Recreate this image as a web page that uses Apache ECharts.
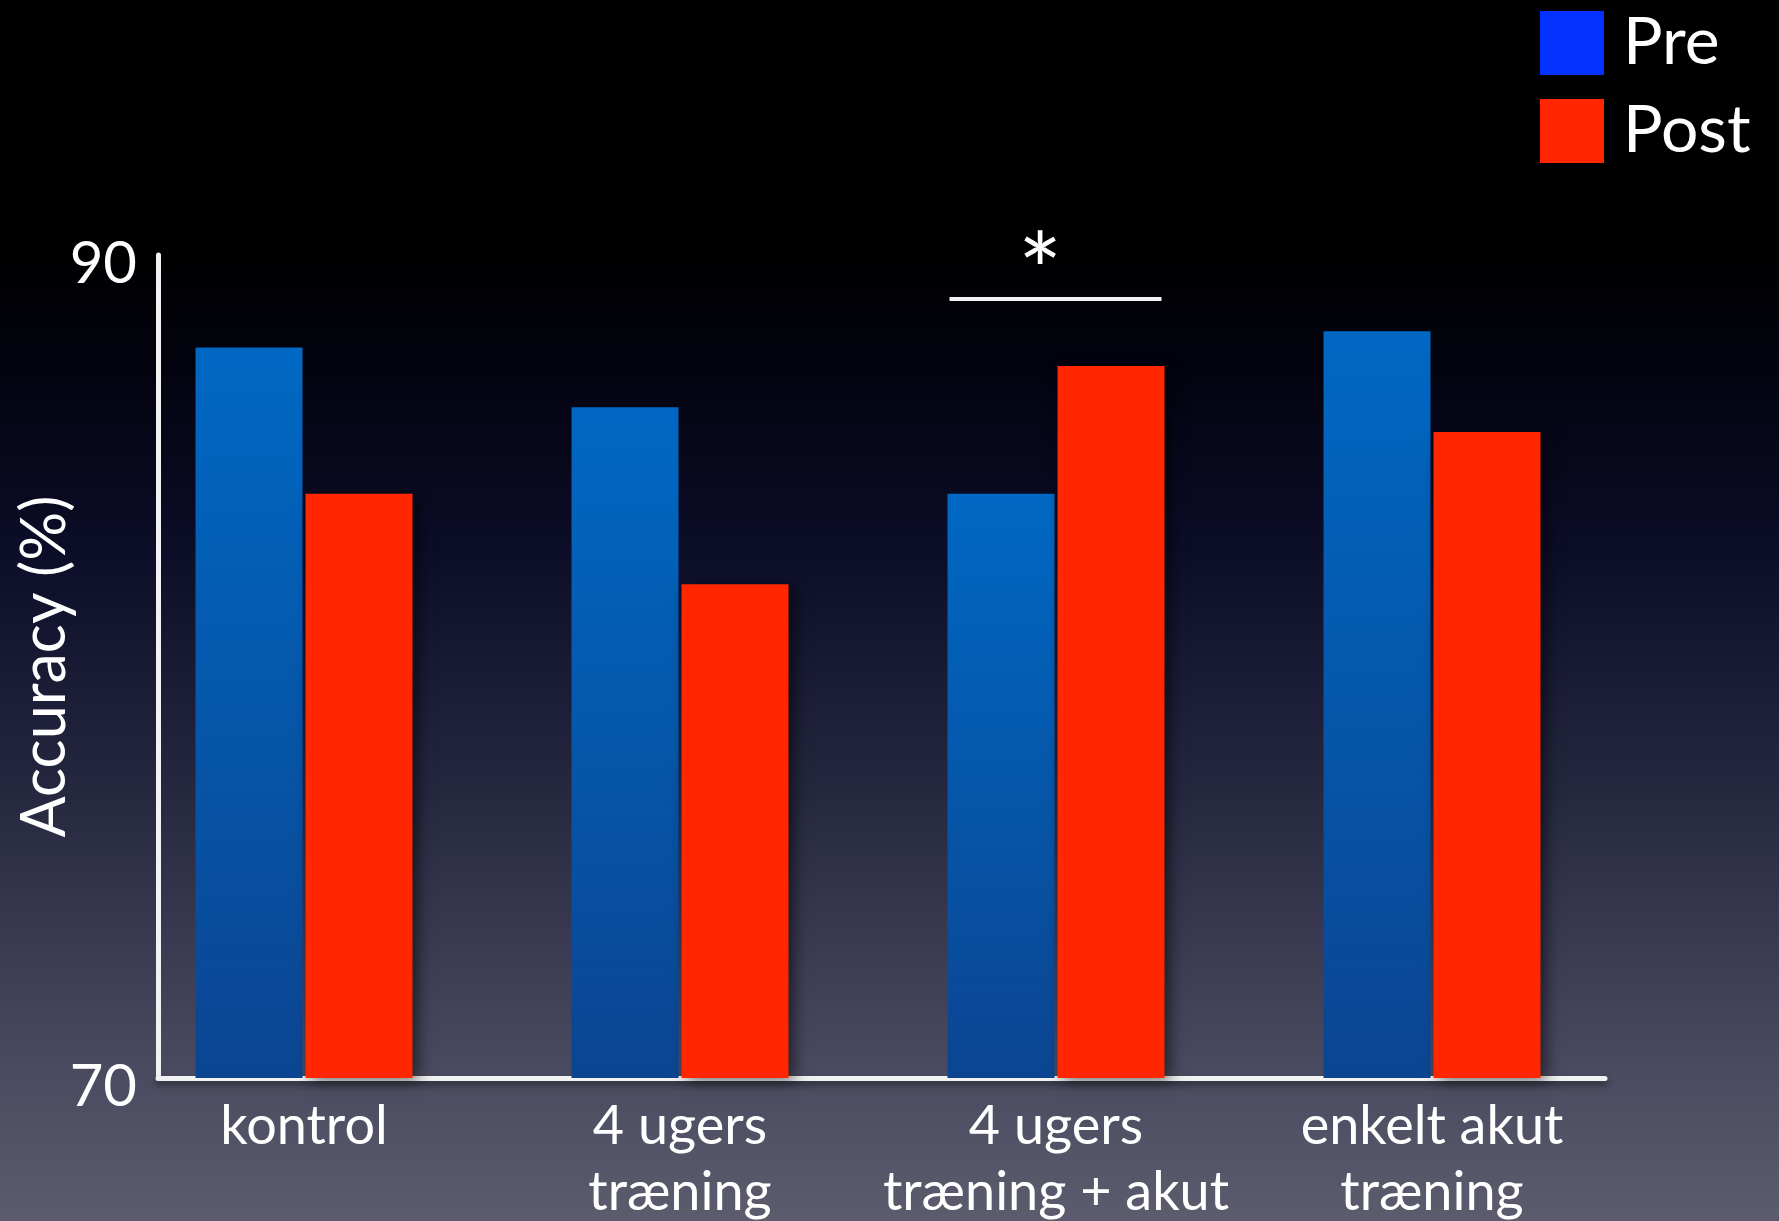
<!DOCTYPE html>
<html>
<head>
<meta charset="utf-8">
<title>Accuracy pre/post</title>
<script src="https://cdn.jsdelivr.net/npm/echarts@6/dist/echarts.min.js"></script>
<style>
  html, body { margin: 0; padding: 0; }
  body {
    width: 1779px; height: 1221px; overflow: hidden;
    background: linear-gradient(to bottom,
      #000000 0%, #000000 20%, #03030f 30%, #0c0d28 45%,
      #262840 65%, #46475d 85%, #5c5c6e 100%);
  }
  #chart { width: 1779px; height: 1221px; }
</style>
</head>
<body>
<div id="chart"></div>
<script>
// Groups on the x axis
const categories = ['kontrol', '4 ugers\ntræning', '4 ugers\ntræning + akut', 'enkelt akut\ntræning'];
// Accuracy (%) before and after
const preValues = [87.75, 86.3, 84.2, 88.15];
const postValues = [84.2, 82.0, 87.3, 85.7];
// Y axis range and tick labels
const yMin = 70;
const yMax = 90;
const yTicks = [70, 90];
// Significance bracket over the third group
const sigGroup = 2;
const sigLevel = 88.93;
const sigMark = '*';

const FONT = 'Lato, "Noto Sans", sans-serif';
const BAR_W = 107;
const BAR_GAP = 3;

const chart = echarts.init(document.getElementById('chart'), null, { renderer: 'canvas' });

const preColor = new echarts.graphic.LinearGradient(0, 0, 0, 1, [
  { offset: 0, color: '#0068c3' },
  { offset: 1, color: '#0b4592' }
]);

const barShadow = {
  shadowBlur: 14,
  shadowColor: 'rgba(0,0,0,0.55)',
  shadowOffsetX: 5,
  shadowOffsetY: 3
};

chart.setOption({
  backgroundColor: 'transparent',
  animation: false,
  textStyle: { fontFamily: FONT },
  legend: {
    orient: 'vertical',
    left: 1535,
    top: 5,
    itemWidth: 64,
    itemHeight: 64,
    itemGap: 22,
    icon: 'rect',
    textStyle: { color: '#ffffff', fontSize: 66, fontFamily: FONT, padding: [0, 0, 0, 14] },
    data: [
      { name: 'Pre', itemStyle: { color: '#0433ff' } },
      { name: 'Post', itemStyle: { color: '#ff2600' } }
    ]
  },
  grid: [
    // bars
    { left: 116, right: 159, top: 255, bottom: 143, containLabel: false, outerBoundsMode: 'none' },
    // visible frame axes
    { left: 158, right: 174, top: 255, bottom: 143, containLabel: false, outerBoundsMode: 'none' }
  ],
  xAxis: [
    {
      type: 'category',
      gridIndex: 0,
      data: categories,
      axisLine: { show: false },
      axisTick: { show: false },
      axisLabel: {
        interval: 0,
        color: '#ffffff',
        fontSize: 54,
        fontFamily: FONT,
        lineHeight: 66,
        margin: 16,
        verticalAlign: 'top'
      }
    },
    {
      type: 'value',
      gridIndex: 1,
      min: 0,
      max: 1,
      axisLine: {
        show: true,
        lineStyle: {
          color: '#f2f2f2', width: 5,
          shadowBlur: 6, shadowColor: 'rgba(0,0,0,0.45)', shadowOffsetY: 4
        }
      },
      axisTick: { show: false },
      axisLabel: { show: false },
      splitLine: { show: false }
    }
  ],
  yAxis: [
    {
      type: 'value',
      gridIndex: 0,
      min: yMin,
      max: yMax,
      show: false
    },
    {
      type: 'value',
      gridIndex: 1,
      min: yMin,
      max: yMax,
      interval: yMax - yMin,
      name: 'Accuracy (%)',
      nameLocation: 'middle',
      nameGap: 82,
      nameRotate: 90,
      nameMoveOverlap: false,
      nameTextStyle: { color: '#ffffff', fontSize: 61, fontFamily: FONT },
      axisLine: {
        show: true,
        lineStyle: { color: '#f2f2f2', width: 5 }
      },
      axisTick: { show: false },
      splitLine: { show: false },
      axisLabel: {
        color: '#ffffff',
        fontSize: 58,
        fontFamily: FONT,
        margin: 21,
        formatter: v => (yTicks.indexOf(v) >= 0 ? '{t|' + v + '}' : ''),
        rich: {
          t: { color: '#ffffff', fontSize: 58, fontFamily: FONT, padding: [18, 0, 0, 0] }
        }
      }
    }
  ],
  series: [
    {
      name: 'Pre',
      type: 'bar',
      xAxisIndex: 0,
      yAxisIndex: 0,
      data: preValues,
      barWidth: BAR_W,
      barGap: (BAR_GAP / BAR_W * 100) + '%',
      itemStyle: Object.assign({ color: preColor }, barShadow),
      emphasis: { disabled: true }
    },
    {
      name: 'Post',
      type: 'bar',
      xAxisIndex: 0,
      yAxisIndex: 0,
      data: postValues,
      barWidth: BAR_W,
      itemStyle: Object.assign({ color: '#ff2600' }, barShadow),
      emphasis: { disabled: true }
    }
  ]
});

// Significance bracket: placed from the group's category position and the value scale
function drawSignificance() {
  const cx = chart.convertToPixel({ xAxisIndex: 0 }, categories[sigGroup]);
  const y = chart.convertToPixel({ yAxisIndex: 0 }, sigLevel);
  const half = BAR_W + BAR_GAP / 2;
  chart.setOption({
    graphic: [
      {
        type: 'line',
        shape: { x1: cx - half + 2, y1: y, x2: cx + half - 3, y2: y },
        style: { stroke: '#f2f2f2', lineWidth: 4 },
        silent: true
      },
      {
        type: 'text',
        x: cx - 16,
        y: y - 24,
        style: {
          text: sigMark,
          fill: '#ffffff',
          font: '104px ' + FONT,
          textAlign: 'center',
          textVerticalAlign: 'middle'
        },
        silent: true
      }
    ]
  });
}
drawSignificance();
</script>
</body>
</html>
